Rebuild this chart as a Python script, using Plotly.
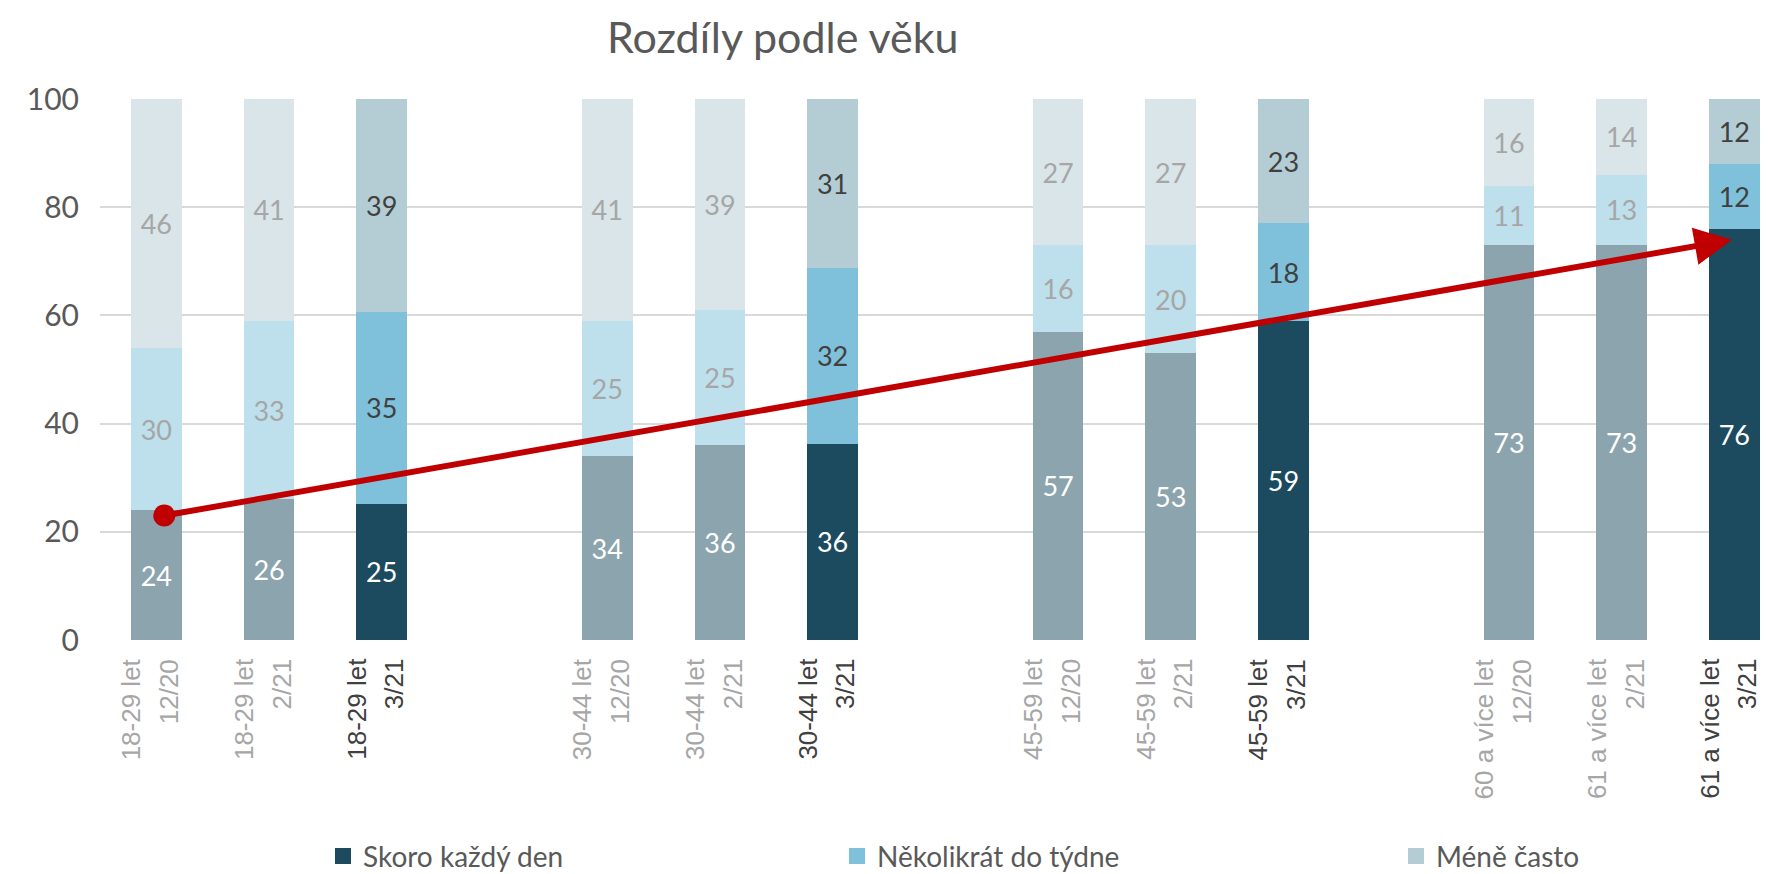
import plotly.graph_objects as go

# ---- data ----
title_text = "Rozdíly podle věku"
age_groups = ["18-29 let", "18-29 let", "18-29 let",
              "30-44 let", "30-44 let", "30-44 let",
              "45-59 let", "45-59 let", "45-59 let",
              "60 a více let", "61 a více let", "61 a více let"]
waves = ["12/20", "2/21", "3/21"] * 4
is_current = [False, False, True] * 4

skoro = [24, 26, 25.2, 34, 36, 36.3, 57, 53, 59, 73, 73, 76]
nekolikrat = [30, 33, 35.4, 25, 25, 32.4, 16, 20, 18, 11, 13, 12]
mene = [46, 41, 39.4, 41, 39, 31.3, 27, 27, 23, 16, 14, 12]

series_names = ["Skoro každý den", "Několikrát do týdne", "Méně často"]
trend_y = [23, 74]

# ---- styling ----
cur_colors = ["#1C4A5E", "#7FC0DB", "#B4CDD4"]
old_colors = ["#8CA4AE", "#BDE0EC", "#D9E5E9"]
cur_text = ["#FFFFFF", "#404040", "#404040"]
old_text = ["#FFFFFF", "#A6A6A6", "#A6A6A6"]
FONT = "Lato"

L, T, B, W, H = 92, 91, 232, 1768, 874
PW, PH = W - L, H - T - B

# positions: groups of three with a blank slot between groups
pos = [i + i // 3 for i in range(len(skoro))]

fig = go.Figure()
series = [skoro, nekolikrat, mene]
legends = ["legend", "legend2", "legend3"]
for s, (vals, name) in enumerate(zip(series, series_names)):
    for cur in (False, True):
        idx = [i for i in range(len(vals)) if is_current[i] == cur]
        fig.add_trace(go.Bar(
            x=[pos[i] for i in idx],
            y=[vals[i] for i in idx],
            texttemplate="%{y:.0f}",
            name=name,
            width=0.45,
            marker=dict(color=cur_colors[s] if cur else old_colors[s], line=dict(width=0)),
            textposition="inside",
            insidetextanchor="middle",
            textangle=0,
            constraintext="none",
            textfont=dict(family=FONT, size=27,
                          color=cur_text[s] if cur else old_text[s]),
            showlegend=False,
            hoverinfo="skip",
        ))
    # legend entry (square swatch)
    fig.add_trace(go.Scatter(
        x=[None], y=[None], mode="markers", name=name,
        marker=dict(symbol="square", size=16, color=cur_colors[s]),
        legend=legends[s], showlegend=True, hoverinfo="skip",
    ))

trend_x = [pos[0] + 0.07, pos[-1] - 0.02]

fig.add_trace(go.Scatter(
    x=[trend_x[0]], y=[trend_y[0]], mode="markers",
    marker=dict(color="#C00000", size=22),
    showlegend=False, hoverinfo="skip",
))
fig.add_annotation(
    x=trend_x[1], y=trend_y[1], ax=trend_x[0], ay=trend_y[0],
    xref="x", yref="y", axref="x", ayref="y",
    showarrow=True, arrowhead=2, arrowsize=1.25, arrowwidth=6,
    arrowcolor="#C00000", standoff=0, text="",
)

# category labels under the bars (rotated, two lines)
for p, g, w, c in zip(pos, age_groups, waves, is_current):
    col = "#404040" if c else "#A6A6A6"
    fig.add_annotation(
        x=p, y=0, xref="x", yref="y",
        text=f'<span style="font-size:26px">{g}<br>{w}</span>',
        showarrow=False, textangle=-90, align="right",
        xanchor="center", yanchor="top", xshift=-6, yshift=-16,
        font=dict(family="Liberation Sans", size=29, color=col),
    )

# chart title
fig.add_annotation(
    x=(775 - L) / PW, y=(H - B - 27) / PH, xref="paper", yref="paper",
    text=title_text, showarrow=False, xanchor="center", yanchor="middle",
    font=dict(family=FONT, size=43, color="#595959"),
)

leg_common = dict(orientation="h", yanchor="middle", xanchor="left",
                  font=dict(family=FONT, size=28, color="#595959"),
                  bgcolor="rgba(0,0,0,0)", itemwidth=30)

fig.update_layout(
    width=W, height=H,
    margin=dict(l=L, r=0, t=T, b=B),
    paper_bgcolor="white", plot_bgcolor="white",
    barmode="stack",
    xaxis=dict(
        range=[-0.5, 14.37],
        showticklabels=False,
        showgrid=False, zeroline=False, showline=False, ticks="",
    ),
    yaxis=dict(
        range=[0, 100], dtick=20, tick0=0,
        gridcolor="#D9D9D9", gridwidth=1.5, zeroline=False, showline=False,
        tickfont=dict(family=FONT, size=30, color="#595959"),
        ticks="", ticklabelstandoff=20,
    ),
    legend=dict(x=(315 - L) / PW, y=-0.40, **leg_common),
    legend2=dict(x=(829 - L) / PW, y=-0.40, **leg_common),
    legend3=dict(x=(1388 - L) / PW, y=-0.40, **leg_common),
    showlegend=True,
)

fig.write_html("out.html")
